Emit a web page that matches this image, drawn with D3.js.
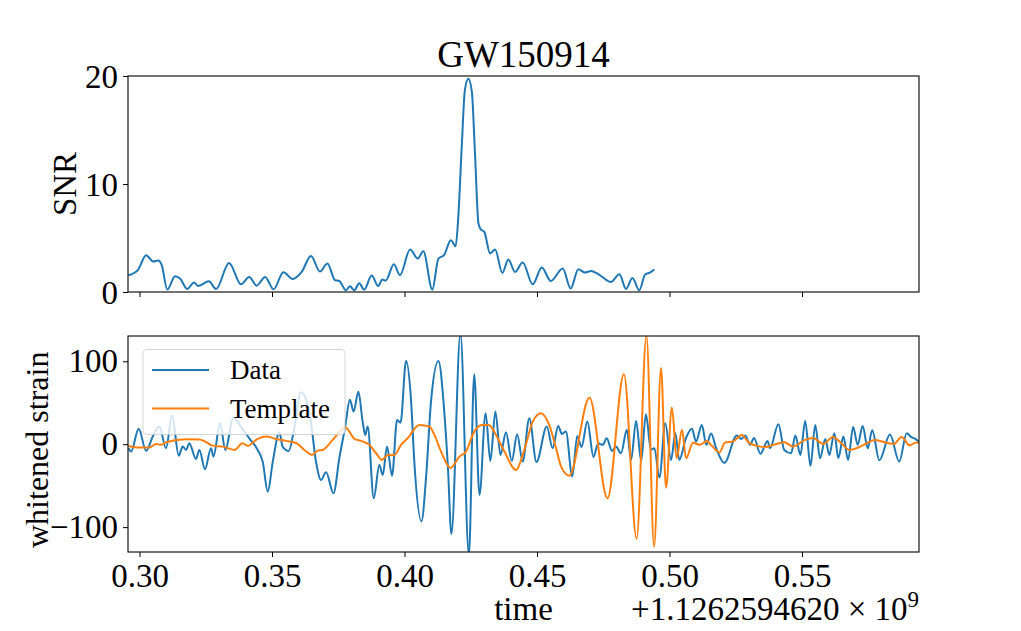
<!DOCTYPE html>
<html><head><meta charset="utf-8">
<script src="https://cdn.jsdelivr.net/npm/d3@7"></script>
<style>
body{margin:0;background:#fff}
svg{display:block}
text{font-family:"Liberation Serif","DejaVu Serif",serif;fill:#000}
</style>
</head><body>
<svg id="c" width="1021" height="631"></svg>
<script>
// ---------------- DATA ----------------
const title = "GW150914";
const xTicks = [0.30, 0.35, 0.40, 0.45, 0.50, 0.55];
const snrTicks = [0, 10, 20];
const strainTicks = [-100, 0, 100];
const xLabel = "time";
const xOffsetLabel = "+1.1262594620 \u00d7 10";
const xOffsetExp = "9";
const seriesNames = ["Data", "Template"];

const snrTime = [0.2958,0.2995,0.3025,0.3052,0.3071,0.3084,0.3105,0.3134,0.3153,0.3180,
  0.3206,0.3222,0.3262,0.3289,0.3338,0.3383,0.3414,0.3442,0.3474,0.3506,
  0.3543,0.3578,0.3612,0.3647,0.3681,0.3709,0.3738,0.3754,0.3779,0.3794,
  0.3811,0.3829,0.3848,0.3876,0.3901,0.3916,0.3929,0.3960,0.3983,0.4021,
  0.4050,0.4071,0.4105,0.4128,0.4149,0.4175,0.4193,0.4203,0.4216,0.4228,
  0.4241,0.4254,0.4266,0.4279,0.4288,0.4301,0.4323,0.4342,0.4369,0.4392,
  0.4417,0.4446,0.4484,0.4518,0.4552,0.4597,0.4627,0.4656,0.4681,0.4704,
  0.4738,0.4779,0.4811,0.4836,0.4860,0.4886,0.4908,0.4926,0.4943];
const snrValue = [1.55,2.08,3.41,2.82,2.91,2.48,0.22,1.46,1.24,0.28,
  0.87,0.56,0.99,0.28,2.69,0.71,1.39,0.59,1.39,0.25,
  1.83,1.21,1.86,3.34,1.89,2.64,1.09,1.02,0.16,0.53,
  0.16,0.81,0.22,1.52,0.56,1.15,1.06,2.57,1.55,3.94,
  3.10,3.78,0.22,3.10,3.41,4.80,4.24,6.96,13.46,18.73,
  19.75,18.57,12.85,6.35,5.79,5.57,3.57,3.94,1.77,3.01,
  1.86,2.73,0.71,2.27,1.02,2.17,0.32,2.11,1.80,1.95,
  1.55,0.93,1.64,0.28,1.30,0.16,1.62,1.80,2.08];

const dataTime = [0.2959,0.2968,0.2997,0.3025,0.3050,0.3075,0.3100,0.3123,0.3148,0.3163,
  0.3176,0.3188,0.3213,0.3226,0.3247,0.3270,0.3279,0.3304,0.3324,0.3354,
  0.3383,0.3414,0.3446,0.3465,0.3484,0.3503,0.3528,0.3540,0.3563,0.3583,
  0.3609,0.3643,0.3666,0.3685,0.3704,0.3732,0.3754,0.3776,0.3794,0.3808,
  0.3826,0.3842,0.3852,0.3861,0.3884,0.3905,0.3918,0.3934,0.3953,0.3972,
  0.3985,0.4006,0.4025,0.4037,0.4064,0.4082,0.4100,0.4128,0.4150,0.4164,
  0.4177,0.4211,0.4243,0.4263,0.4283,0.4306,0.4324,0.4343,0.4362,0.4383,
  0.4405,0.4425,0.4446,0.4471,0.4498,0.4537,0.4559,0.4580,0.4594,0.4609,
  0.4633,0.4652,0.4668,0.4690,0.4713,0.4731,0.4748,0.4763,0.4783,0.4798,
  0.4817,0.4839,0.4855,0.4874,0.4893,0.4911,0.4930,0.4943,0.4962,0.4984,
  0.5006,0.5022,0.5037,0.5062,0.5085,0.5100,0.5122,0.5139,0.5157,0.5176,
  0.5207,0.5254,0.5270,0.5286,0.5304,0.5319,0.5343,0.5370,0.5379,0.5411,
  0.5433,0.5459,0.5475,0.5494,0.5512,0.5532,0.5550,0.5568,0.5588,0.5603,
  0.5622,0.5637,0.5656,0.5674,0.5693,0.5710,0.5729,0.5748,0.5765,0.5792,
  0.5832,0.5867,0.5895,0.5911,0.5928,0.5945];
const dataStrain = [-4.8,-8.9,18.5,-8.1,9.2,21.3,-4.8,34.5,-13.8,-2.9,
  -6.9,1.2,-17.8,-6.9,-30.2,-4.8,-15,25.4,-6.9,32.1,
  21.3,7.2,-6.9,-21,-57.2,-21,14.5,-2.9,-8.1,17.3,
  62.8,35.4,-21,-43.1,-33.8,-59.2,-16.9,20.9,53.5,39.4,
  63.2,27.3,11.2,21.3,-65.2,-25,-37.1,-2.9,-38,29.3,
  26,100.6,51.4,-21,-93,-37,51.4,100.2,39.4,-29,
  -108.3,134,-134,84.5,-61.2,37.4,-20.2,39.4,-12.9,14.5,
  -20.2,12.1,-21,31.4,-21.4,21.3,-4.8,22.1,12.4,15.2,
  -38.9,10,-3.3,27.3,-15.3,1.2,-0.8,7.2,-8.1,-2.9,
  -10.9,17.3,-19,28.1,-20.2,36.2,-6.9,-4.8,-40.3,25.4,
  -19,13.3,-19,7.2,18.5,3.1,23.3,-0.8,13,-4.8,
  -22.6,10.6,6.4,10.4,-0.8,7.6,-11.5,4,-4.8,24.2,
  -6.9,-10.9,10.4,-12.9,28.1,-26.2,23.3,-16.9,6.4,-12.9,
  13.3,-16.9,9.2,-19,20.9,-0.8,22.1,-4.8,16.7,-19.3,
  11.6,-21,13.3,8.8,6.4,1.2];

const templateTime = [0.2959,0.2999,0.3037,0.3062,0.3081,0.3100,0.3176,0.3226,0.3247,0.3276,
  0.3314,0.3358,0.3389,0.3409,0.3440,0.3477,0.3515,0.3553,0.3593,0.3622,
  0.3651,0.3673,0.3691,0.3729,0.3777,0.3811,0.3836,0.3867,0.3893,0.3915,
  0.3937,0.3962,0.3987,0.4012,0.4056,0.4094,0.4113,0.4138,0.4174,0.4207,
  0.4232,0.4263,0.4293,0.4318,0.4345,0.4377,0.4421,0.4452,0.4484,0.4515,
  0.4546,0.4572,0.4591,0.4622,0.4698,0.4766,0.4828,0.4876,0.4913,0.4942,
  0.4968,0.4987,0.5009,0.5027,0.5047,0.5063,0.5088,0.5115,0.5140,0.5160,
  0.5189,0.5209,0.5240,0.5273,0.5300,0.5329,0.5360,0.5398,0.5433,0.5466,
  0.5511,0.5543,0.5580,0.5617,0.5647,0.5679,0.5726,0.5776,0.5821,0.5847,
  0.5876,0.5906,0.5926,0.5945];
const templateStrain = [-2.1,-4.1,-4.1,0.4,-0.8,2.4,6,5.6,3.4,-1.7,
  -2.9,-6.9,1.2,-2,5.2,9.2,6.4,4,1.2,-6.9,
  -12.9,-7.7,-6.9,5.2,20.1,6.4,4,-0.8,-10.9,-19,
  -12.9,-12.9,-0.8,7.2,23.3,21.3,11.2,-8.9,-28.6,-15,
  -8.9,15.2,23.3,23.3,11.2,-8.9,-31,-6.9,27.3,37.4,
  23.3,-4.8,-27.1,-37.9,55.9,-65.2,84.5,-114,131,-123.7,
  91.8,-52.4,44.2,-16.9,17.3,-16.9,1.9,-0.8,4,-2,
  -9.9,1.9,3.4,11.2,1.6,-2,-3.3,-0.2,2.4,-2.9,
  5.2,7.6,0.4,8.8,1.6,-6.9,-2,5.2,1.6,0.4,
  8.8,-1.4,1.6,2.2];

// ---------------- CHART ----------------
const svg = d3.select("#c");
const L = 128, R = 919;
const T1 = 76, B1 = 292, T2 = 336, B2 = 552;
const FS = 33;
const blue = "#1f77b4", orange = "#ff7f0e";

const x = d3.scaleLinear().domain([0.29566, 0.59415]).range([L, R]);
const ySNR = d3.scaleLinear().domain([0, 20]).range([B1, T1]);
const yStr = d3.scaleLinear().domain([-130, 130.5]).range([B2, T2]);

const defs = svg.append("defs");
defs.append("clipPath").attr("id", "clip1").append("rect")
  .attr("x", L).attr("y", T1).attr("width", R - L).attr("height", B1 - T1);
defs.append("clipPath").attr("id", "clip2").append("rect")
  .attr("x", L).attr("y", T2).attr("width", R - L).attr("height", B2 - T2);

function styleAxis(g) {
  g.select(".domain").remove();
  g.selectAll(".tick line").attr("stroke", "#000").attr("stroke-width", 1);
  g.selectAll(".tick text").style("font-size", FS + "px")
    .style("font-family", '"Liberation Serif","DejaVu Serif",serif').attr("fill", "#000");
}

// top axes
const snrLine = d3.line().x((d, i) => x(snrTime[i])).y(d => ySNR(d)).curve(d3.curveMonotoneX);
svg.append("path").attr("clip-path", "url(#clip1)")
  .attr("d", snrLine(snrValue)).attr("fill", "none").attr("stroke", blue)
  .attr("stroke-width", 2).attr("stroke-linejoin", "round");

svg.append("g").attr("transform", `translate(0,${B1})`)
  .call(d3.axisBottom(x).tickValues(xTicks).tickSize(5).tickFormat(""))
  .call(styleAxis);
svg.append("g").attr("transform", `translate(${L},0)`)
  .call(d3.axisLeft(ySNR).tickValues(snrTicks).tickSize(5).tickPadding(5).tickFormat(d3.format("d")))
  .call(styleAxis)
  .call(g => g.selectAll(".tick text").attr("dy", "0.34em"));
svg.append("rect").attr("x", L).attr("y", T1).attr("width", R - L).attr("height", B1 - T1)
  .attr("fill", "none").attr("stroke", "#000").attr("stroke-width", 1.1);

svg.append("text").attr("x", (L + R) / 2).attr("y", 67).attr("text-anchor", "middle")
  .style("font-size", "37px").text(title);
svg.append("text").attr("transform", "translate(76,184) rotate(-90)").attr("text-anchor", "middle")
  .style("font-size", FS + "px").text("SNR");

// bottom axes
const sLine = (times) => d3.line().x((d, i) => x(times[i])).y(d => yStr(d)).curve(d3.curveMonotoneX);
svg.append("path").attr("clip-path", "url(#clip2)")
  .attr("d", sLine(dataTime)(dataStrain)).attr("fill", "none").attr("stroke", blue)
  .attr("stroke-width", 2).attr("stroke-linejoin", "round");
svg.append("path").attr("clip-path", "url(#clip2)")
  .attr("d", sLine(templateTime)(templateStrain)).attr("fill", "none").attr("stroke", orange)
  .attr("stroke-width", 2).attr("stroke-linejoin", "round");

svg.append("g").attr("transform", `translate(0,${B2})`)
  .call(d3.axisBottom(x).tickValues(xTicks).tickSize(5).tickPadding(7).tickFormat(d3.format(".2f")))
  .call(styleAxis);
svg.append("g").attr("transform", `translate(${L},0)`)
  .call(d3.axisLeft(yStr).tickValues(strainTicks).tickSize(5).tickPadding(5).tickFormat(d3.format("d")))
  .call(styleAxis)
  .call(g => g.selectAll(".tick text").attr("dy", "0.32em"));
svg.append("rect").attr("x", L).attr("y", T2).attr("width", R - L).attr("height", B2 - T2)
  .attr("fill", "none").attr("stroke", "#000").attr("stroke-width", 1.1);

svg.append("text").attr("transform", "translate(48,548) rotate(-90)").attr("text-anchor", "start")
  .style("font-size", "32px").text("whitened strain");
svg.append("text").attr("x", (L + R) / 2).attr("y", 620).attr("text-anchor", "middle")
  .style("font-size", FS + "px").text(xLabel);
const off = svg.append("text").attr("x", R).attr("y", 620).attr("text-anchor", "end")
  .style("font-size", FS + "px");
off.append("tspan").text(xOffsetLabel);
off.append("tspan").attr("dy", -13).style("font-size", "23px").text(xOffsetExp);

// legend
const lg = svg.append("g");
lg.append("rect").attr("x", 143).attr("y", 349.5).attr("width", 202).attr("height", 85)
  .attr("rx", 4).attr("fill", "#fff").attr("fill-opacity", 0.8)
  .attr("stroke", "#cccccc").attr("stroke-opacity", 0.8).attr("stroke-width", 1);
[blue, orange].forEach((c, i) => {
  const yy = 370 + i * 38.5;
  lg.append("line").attr("x1", 152).attr("x2", 209).attr("y1", yy).attr("y2", yy)
    .attr("stroke", c).attr("stroke-width", 2);
  lg.append("text").attr("x", 230).attr("y", yy + 9).style("font-size", "27px").text(seriesNames[i]);
});
</script>
</body></html>
